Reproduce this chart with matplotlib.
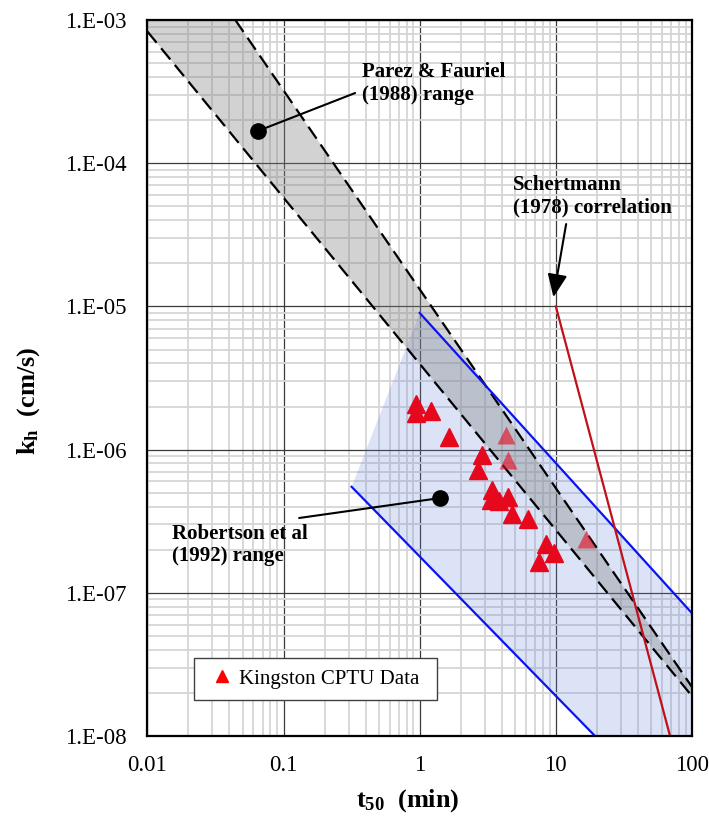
import numpy as np
import matplotlib
matplotlib.use("Agg")
import matplotlib.pyplot as plt
from matplotlib.ticker import FixedLocator, FixedFormatter, LogLocator, NullFormatter

plt.rcParams['font.family'] = ['Liberation Serif', 'DejaVu Serif']
plt.rcParams['mathtext.fontset'] = 'custom'
plt.rcParams['mathtext.rm'] = 'Liberation Serif'
plt.rcParams['mathtext.bf'] = 'Liberation Serif:bold'
plt.rcParams['mathtext.it'] = 'Liberation Serif:italic'

# ---- data ----
# Kingston CPTU data (t50 in min, kh in cm/s)
cptu_t50 = [0.94, 0.94, 1.20, 1.63, 2.86, 2.70, 3.38, 3.34, 3.83, 4.46, 4.74, 6.28, 8.47, 9.75, 7.48]
cptu_kh = [2.07e-6, 1.80e-6, 1.86e-6, 1.22e-6, 9.16e-7, 7.21e-7, 5.22e-7, 4.45e-7, 4.38e-7,
           4.67e-7, 3.55e-7, 3.26e-7, 2.18e-7, 1.89e-7, 1.65e-7]
# faded (semi-transparent) data points
cptu_faded_t50 = [4.30, 4.46, 16.7]
cptu_faded_kh = [1.26e-6, 8.45e-7, 2.37e-7]

# Parez & Fauriel (1988) range boundaries
parez_upper_t = [0.0442, 100]
parez_upper_k = [1e-3, 2.2e-8]
parez_lower_t = [0.01, 100]
parez_lower_k = [8.3e-4, 1.9e-8]

# Robertson et al (1992) range
rob_upper_t = [1.0, 100]
rob_upper_k = [9.0e-6, 7.2e-8]
rob_lower_t = [0.316, 19.4]
rob_lower_k = [5.5e-7, 1.0e-8]

# Schertmann (1978) correlation
sch_t = [10, 69]
sch_k = [1e-5, 1e-8]

# annotation dots
parez_dot = (0.0648, 1.68e-4)
rob_dot = (1.41, 4.59e-7)

x_ticks = [0.01, 0.1, 1, 10, 100]
x_ticklabels = ['0.01', '0.1', '1', '10', '100']
y_ticks = [1e-8, 1e-7, 1e-6, 1e-5, 1e-4, 1e-3]
y_ticklabels = ['1.E-08', '1.E-07', '1.E-06', '1.E-05', '1.E-04', '1.E-03']

xlim = (0.01, 100)
ylim = (1e-8, 1e-3)

# ---- figure ----
fig = plt.figure(figsize=(7.09, 8.16), dpi=100)
ax = fig.add_axes([0.208, 0.098, 0.768, 0.8775])
ax.set_xscale('log')
ax.set_yscale('log')
ax.set_xlim(*xlim)
ax.set_ylim(*ylim)

# grid
ax.set_axisbelow(True)
ax.xaxis.set_minor_locator(LogLocator(base=10, subs=np.arange(2, 10)))
ax.yaxis.set_minor_locator(LogLocator(base=10, subs=np.arange(2, 10)))
ax.xaxis.set_minor_formatter(NullFormatter())
ax.yaxis.set_minor_formatter(NullFormatter())
ax.grid(True, which='minor', color='#d6d6d6', lw=1.3)
ax.grid(True, which='major', color='#3a3a3a', lw=0.9)

# Robertson fill
rob_poly_t = [rob_lower_t[0], rob_upper_t[0], rob_upper_t[1], xlim[1], rob_lower_t[1]]
rob_poly_k = [rob_lower_k[0], rob_upper_k[0], rob_upper_k[1], ylim[0], rob_lower_k[1]]
ax.fill(rob_poly_t, rob_poly_k, color=(100/255, 130/255, 220/255), alpha=0.22, lw=0, zorder=1)

# Parez fill
par_poly_t = [parez_lower_t[0], xlim[0], parez_upper_t[0], parez_upper_t[1], parez_lower_t[1]]
par_poly_k = [parez_lower_k[0], ylim[1], parez_upper_k[0], parez_upper_k[1], parez_lower_k[1]]
ax.fill(par_poly_t, par_poly_k, color=(0.5, 0.5, 0.5), alpha=0.35, lw=0, zorder=1.1)

# lines
ax.plot(parez_upper_t, parez_upper_k, color='black', lw=1.6, ls=(0, (6.5, 3.2)), zorder=3)
ax.plot(parez_lower_t, parez_lower_k, color='black', lw=1.6, ls=(0, (6.5, 3.2)), zorder=3)
ax.plot(rob_upper_t, rob_upper_k, color='#0a14f0', lw=1.6, zorder=3)
ax.plot(rob_lower_t, rob_lower_k, color='#0a14f0', lw=1.6, zorder=3)
ax.plot(sch_t, sch_k, color='#c0101a', lw=1.6, zorder=3)

# data
ax.plot(cptu_t50, cptu_kh, ls='none', marker='^', ms=13, color='#e6081c', mec='#e6081c',
        zorder=5)
ax.plot(cptu_faded_t50, cptu_faded_kh, ls='none', marker='^', ms=13, color='#e6081c',
        mec='none', alpha=0.6, zorder=5)
# legend handle
leg_handle, = ax.plot([], [], ls='none', marker='^', ms=9, color='#ff0000',
                      label='Kingston CPTU Data')

# dots
ax.plot(*parez_dot, 'o', color='black', ms=11, zorder=6)
ax.plot(*rob_dot, 'o', color='black', ms=11, zorder=6)

# annotations
lbl_font = dict(fontsize=15, fontweight='bold', family='Liberation Serif')
ax.annotate('', xy=parez_dot, xytext=(0.335, 3.09e-4),
            arrowprops=dict(arrowstyle='-', lw=1.5, color='black',
                            shrinkA=0, shrinkB=0), zorder=6)
ax.text(0.377, 3.6e-4, 'Parez & Fauriel\n(1988) range', ha='left', va='center',
        linespacing=1.15, zorder=7, **lbl_font)

ax.annotate('', xy=rob_dot, xytext=(0.130, 3.33e-7),
            arrowprops=dict(arrowstyle='-', lw=1.5, color='black',
                            shrinkA=0, shrinkB=0), zorder=6)
ax.text(0.0151, 2.17e-7, 'Robertson et al\n(1992) range', ha='left', va='center',
        linespacing=1.15, zorder=7, **lbl_font)

ax.annotate('', xy=(9.6, 1.16e-5), xytext=(11.9, 3.76e-5),
            arrowprops=dict(arrowstyle='-|>,head_length=0.7,head_width=0.3', lw=1.5,
                            color='black', shrinkA=0, shrinkB=0, mutation_scale=20),
            zorder=6)
ax.text(4.85, 5.85e-5, 'Schertmann\n(1978) correlation', ha='left', va='center',
        linespacing=1.15, zorder=7, **lbl_font)

# ticks
ax.xaxis.set_major_locator(FixedLocator(x_ticks))
ax.xaxis.set_major_formatter(FixedFormatter(x_ticklabels))
ax.yaxis.set_major_locator(FixedLocator(y_ticks))
ax.yaxis.set_major_formatter(FixedFormatter(y_ticklabels))
ax.tick_params(which='both', length=0)
ax.tick_params(axis='x', which='major', labelsize=16.5, pad=14)
ax.tick_params(axis='y', which='major', labelsize=16.5, pad=15)

for s in ax.spines.values():
    s.set_linewidth(1.6)
    s.set_color('black')
    s.set_zorder(8)

# axis labels
ax.set_xlabel(r'$\mathbf{t}_{\mathbf{50}}$  (min)', fontsize=19, fontweight='bold')
ax.xaxis.set_label_coords(0.478, -0.09)
ax.xaxis.label.set_va('center')
ax.set_ylabel(r'$\mathbf{k}_{\mathbf{h}}$  (cm/s)', fontsize=19, fontweight='bold')
ax.yaxis.set_label_coords(-0.219, 0.469)
ax.yaxis.label.set_va('center')

# legend
leg = ax.legend(handles=[leg_handle], loc='lower left',
                bbox_to_anchor=(0.0854, 0.0503, 0.4466, 0.0670), mode='expand',
                borderaxespad=0, fontsize=15, handlelength=1.6, handletextpad=0.0,
                borderpad=0.55, fancybox=False, framealpha=1, edgecolor='#404040')
leg.get_frame().set_linewidth(1.0)
leg.set_zorder(9)

fig.savefig('out.png', dpi=100)
